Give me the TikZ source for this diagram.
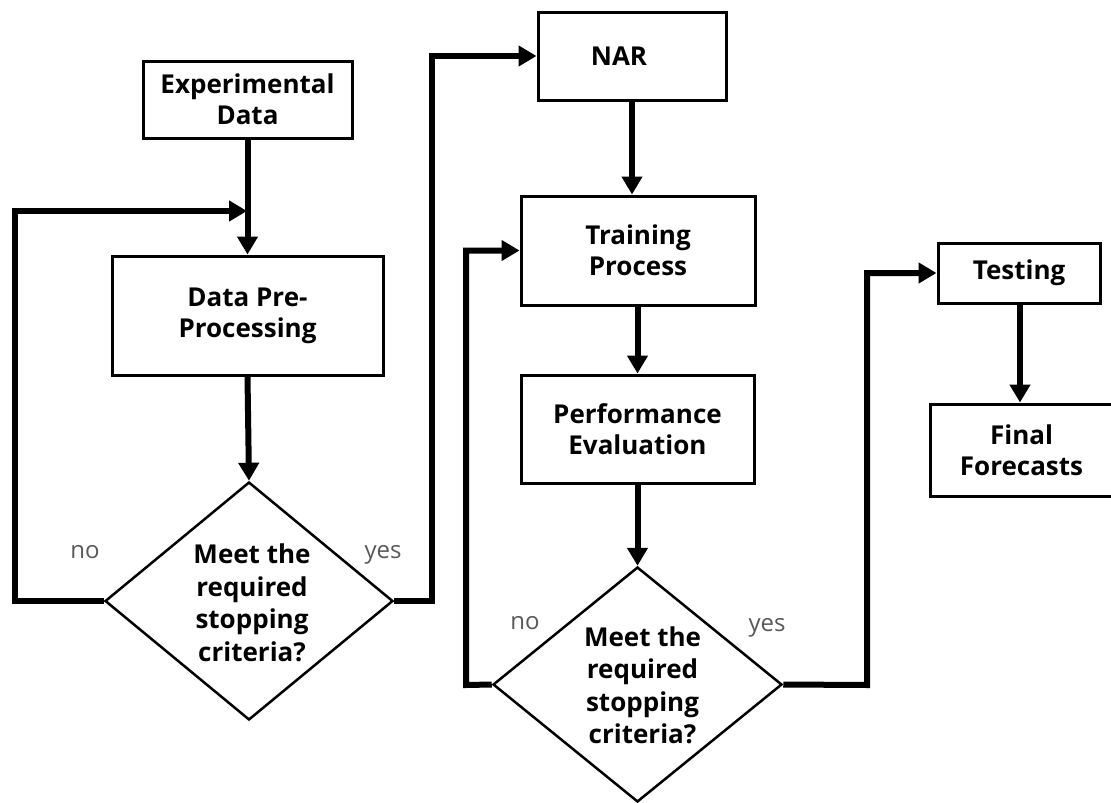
\documentclass[tikz,border=0pt]{standalone}
\usepackage{fontspec}
\setmainfont{Open Sans}
\usetikzlibrary{arrows.meta,shapes.geometric}

\tikzset{
  procbox/.style={draw=black, line width=3pt, fill=white, inner sep=0pt,
    align=center, font=\fontsize{26}{31}\selectfont\bfseries},
  decision/.style={diamond, draw=black, line width=2.5pt, fill=white,
    inner sep=0pt, aspect=1},
  dectext/.style={align=center, font=\fontsize{26}{32.5}\selectfont\bfseries},
  flow/.style={line width=6pt, -{Triangle[length=18pt,width=20pt]}},
  branch/.style={text=black!65, font=\fontsize{24}{28}\selectfont}
}

\begin{document}
\begin{tikzpicture}[x=1pt, y=-1pt]
\useasboundingbox (0,0) rectangle (1111,803);

% process boxes
\node[procbox, minimum width=209pt, minimum height=77pt] (exp) at (247.5,99.5) {Experimental\\Data};
\node[procbox, minimum width=271pt, minimum height=119pt] (pre) at (247.5,315.5) {Data Pre-\\Processing};
\node[procbox, minimum width=188pt, minimum height=88pt,
  label={[procbox, draw=none, xshift=-13pt]center:NAR}] (nar) at (632,56) {};
\node[procbox, minimum width=234pt, minimum height=109pt] (train) at (638,250.5) {Training\\Process};
\node[procbox, minimum width=233pt, minimum height=108pt] (perf) at (637.5,429) {Performance\\Evaluation};
\node[procbox, minimum width=162pt, minimum height=60pt] (test) at (1019,273) {Testing};
\node[procbox, minimum width=183pt, minimum height=92pt] (final) at (1021.5,450) {Final\\Forecasts};

% decisions
\node[decision, minimum width=288pt, minimum height=238pt,
  label={[dectext, yshift=-2pt, xshift=3pt]center:Meet the\\required\\stopping\\criteria?}] (d1) at (249,601) {};
\node[decision, minimum width=289pt, minimum height=235pt,
  label={[dectext, yshift=-1pt, xshift=5pt]center:Meet the\\required\\stopping\\criteria?}] (d2) at (637.5,684.5) {};

% loop-back junction points
\coordinate (j1) at (249,211);
\coordinate (l1) at (15,601);
\coordinate (r1) at (432,601);
\coordinate (l2) at (466,685);
\coordinate (r2) at (867,685);

% main flow
\draw[flow] (exp.south) -- (pre.north);
\draw[flow] (pre.south) -- (d1.north);
\draw[flow] (nar.south) -- (nar.south |- train.north);
\draw[flow] (train.south -| perf.north) -- (perf.north);
\draw[flow] (perf.south) -- (d2.north);
\draw[flow] (test.south -| final.north) ++(-1.5,0) coordinate (ts) -- (ts |- final.north);

% branches
\draw[flow] (d1.west) -- (l1) |- ([xshift=-2pt]j1);
\draw[flow] (d1.east) -- (r1) |- (nar.west);
\draw[flow] (d2.west) -- (l2) |- (train.west);
\draw[flow] (d2.east) -- (r2) |- (test.west);

% branch labels
\node[branch] (n1) at (85,552) {no};
\node[branch] (y1) at (383,555) {yes};
\node[branch] (n2) at (525,623) {no};
\node[branch] (y2) at (767,628) {yes};
\end{tikzpicture}
\end{document}
